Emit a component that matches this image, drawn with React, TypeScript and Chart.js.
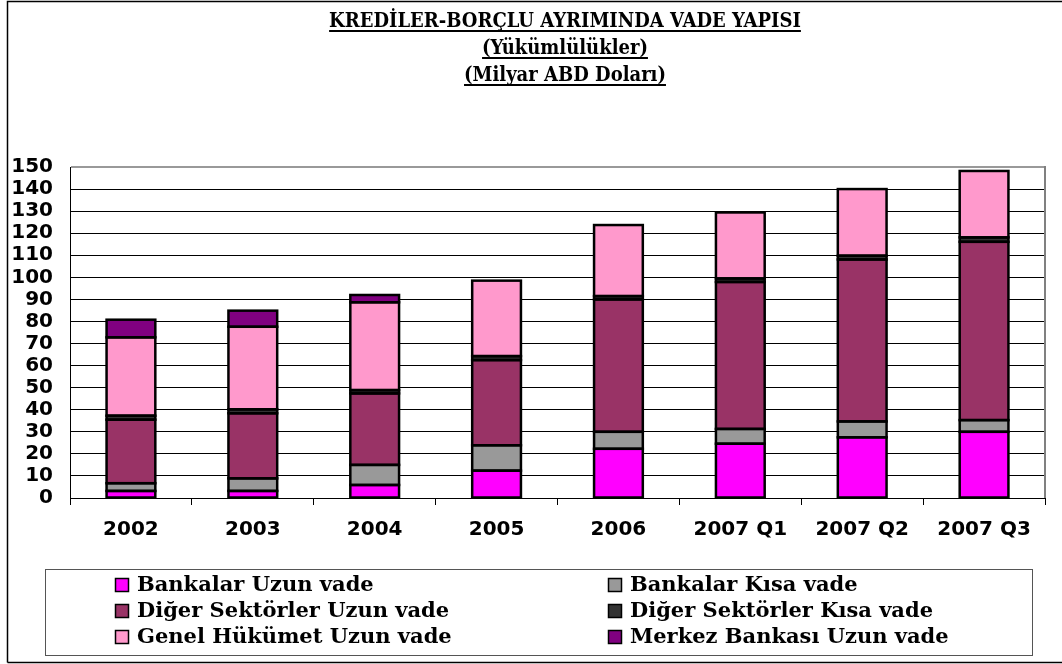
import React, { useEffect, useRef } from "react";
import { Chart, registerables } from "chart.js";

Chart.register(...registerables);

const categories = ["2002", "2003", "2004", "2005", "2006", "2007 Q1", "2007 Q2", "2007 Q3"];
const bankalarUzun = [3.2, 3.2, 5.9, 12.4, 22.3, 24.6, 27.5, 30.0];
const bankalarKisa = [3.5, 5.7, 9.1, 11.5, 7.7, 6.7, 7.2, 5.3];
const digerUzun = [28.8, 29.5, 32.4, 38.6, 60.0, 66.6, 73.4, 80.8];
const digerKisa = [1.8, 1.8, 1.5, 1.8, 1.5, 1.6, 1.7, 2.0];
const genelUzun = [35.5, 37.4, 39.8, 34.2, 32.2, 29.9, 30.2, 30.1];
const merkezUzun = [8.0, 7.3, 3.3, 0, 0, 0, 0, 0];

const seriesNames = [
  "Bankalar Uzun vade",
  "Bankalar Kısa vade",
  "Diğer Sektörler Uzun vade",
  "Diğer Sektörler Kısa vade",
  "Genel Hükümet Uzun vade",
  "Merkez Bankası Uzun vade",
];
const seriesColors = ["#FF00FF", "#999999", "#993366", "#333333", "#FF99CC", "#800080"];
const seriesValues = [bankalarUzun, bankalarKisa, digerUzun, digerKisa, genelUzun, merkezUzun];

const titleLines = [
  "KREDİLER-BORÇLU AYRIMINDA VADE YAPISI",
  "(Yükümlülükler)",
  "(Milyar ABD Doları)",
];

const yTickMax = 150;
const yTickStep = 10;

const outlinePlugin = {
  id: "outline",
  afterDatasetsDraw(chart: any) {
    const ctx = chart.ctx;
    ctx.save();
    ctx.strokeStyle = "#000";
    ctx.lineWidth = 2.5;
    chart.data.datasets.forEach((_: any, di: number) => {
      const meta = chart.getDatasetMeta(di);
      meta.data.forEach((bar: any) => {
        const h = Math.abs(bar.base - bar.y);
        if (h < 0.01) return;
        const left = bar.x - bar.width / 2;
        const top = Math.min(bar.y, bar.base);
        ctx.strokeRect(left, top, bar.width, h);
      });
    });
    ctx.restore();
  },
};

const decorPlugin = {
  id: "decor",
  afterDraw(chart: any) {
    const ctx = chart.ctx;
    const area = chart.chartArea;
    ctx.save();
    // outer frame
    ctx.strokeStyle = "#000";
    ctx.lineWidth = 1.5;
    ctx.beginPath();
    ctx.moveTo(7.5, 662.5);
    ctx.lineTo(7.5, 1.5);
    ctx.lineTo(1062, 1.5);
    ctx.moveTo(7.5, 662.5);
    ctx.lineTo(1062, 662.5);
    ctx.stroke();

    // plot right border
    ctx.strokeStyle = "#808080";
    ctx.lineWidth = 2;
    ctx.beginPath();
    ctx.moveTo(area.right, area.top - 1);
    ctx.lineTo(area.right, area.bottom);
    ctx.stroke();

    // title
    ctx.fillStyle = "#000";
    ctx.textAlign = "center";
    ctx.textBaseline = "alphabetic";
    ctx.font = "bold 20px 'DejaVu Serif Condensed', 'DejaVu Serif', serif";
    const titleCenter = 565;
    const baselines = [27, 54, 81];
    titleLines.forEach((line, i) => {
      ctx.fillText(line, titleCenter, baselines[i]);
      const w = ctx.measureText(line).width;
      ctx.fillRect(titleCenter - w / 2, baselines[i] + 3, w, 2);
    });

    // legend
    ctx.strokeStyle = "#555";
    ctx.lineWidth = 1;
    ctx.strokeRect(45.5, 569.5, 987, 86);
    ctx.font = "bold 21px 'DejaVu Serif', serif";
    ctx.textAlign = "left";
    ctx.textBaseline = "middle";
    const colX = [115, 608];
    const rowY = [585, 611, 637];
    chart.data.datasets.forEach((ds: any, i: number) => {
      const x = colX[i % 2];
      const y = rowY[Math.floor(i / 2)];
      ctx.fillStyle = ds.backgroundColor;
      ctx.fillRect(x, y - 7, 14, 14);
      ctx.strokeStyle = "#000";
      ctx.lineWidth = 1.5;
      ctx.strokeRect(x + 0.5, y - 6.5, 13, 13);
      ctx.fillStyle = "#000";
      ctx.fillText(ds.label, x + 22, y + 1);
    });
    ctx.restore();
  },
};

export default function App() {
  const canvasRef = useRef<HTMLCanvasElement | null>(null);

  useEffect(() => {
    const canvas = canvasRef.current;
    if (!canvas) return;
    const chart = new Chart(canvas, {
      type: "bar",
      data: {
        labels: categories,
        datasets: seriesNames.map((name, i) => ({
          label: name,
          data: seriesValues[i],
          backgroundColor: seriesColors[i],
          borderWidth: 0,
          barPercentage: 0.4,
          categoryPercentage: 1,
        })),
      },
      options: {
        responsive: false,
        animation: false,
        devicePixelRatio: 1,
        layout: { padding: { left: 0, right: 17, top: 167, bottom: 116 } },
        plugins: {
          legend: { display: false },
          title: { display: false },
          tooltip: { enabled: false },
        },
        scales: {
          x: {
            stacked: true,
            offset: true,
            grid: {
              display: true,
              drawOnChartArea: false,
              drawTicks: true,
              tickLength: 7,
              color: "#000",
              offset: true,
            },
            border: { display: true, color: "#000", width: 1 },
            ticks: {
              color: "#000",
              padding: 13,
              autoSkip: false,
              maxRotation: 0,
              font: { family: "'DejaVu Sans', Verdana, sans-serif", weight: "bold", size: 20 },
            },
            afterFit(scale: any) {
              scale.height = 50;
            },
          },
          y: {
            stacked: true,
            min: 0,
            max: yTickMax,
            grid: {
              color: (c: any) => (c.tick && c.tick.value === yTickMax ? "#999999" : "#000"),
              lineWidth: (c: any) => (c.tick && c.tick.value === yTickMax ? 2 : 1),
              drawTicks: false,
            },
            border: { display: true, color: "#000", width: 1 },
            ticks: {
              stepSize: yTickStep,
              autoSkip: false,
              color: "#000",
              padding: 17,
              font: { family: "'DejaVu Sans', Verdana, sans-serif", weight: "bold", size: 20 },
            },
            afterFit(scale: any) {
              scale.width = 70;
            },
          },
        },
      },
      plugins: [outlinePlugin, decorPlugin],
    });
    return () => chart.destroy();
  }, []);

  return (
    <div style={{ position: "absolute", left: 0, top: 0, width: 1062, height: 664, background: "#fff" }}>
      <canvas ref={canvasRef} width={1062} height={664} style={{ display: "block" }} />
    </div>
  );
}
